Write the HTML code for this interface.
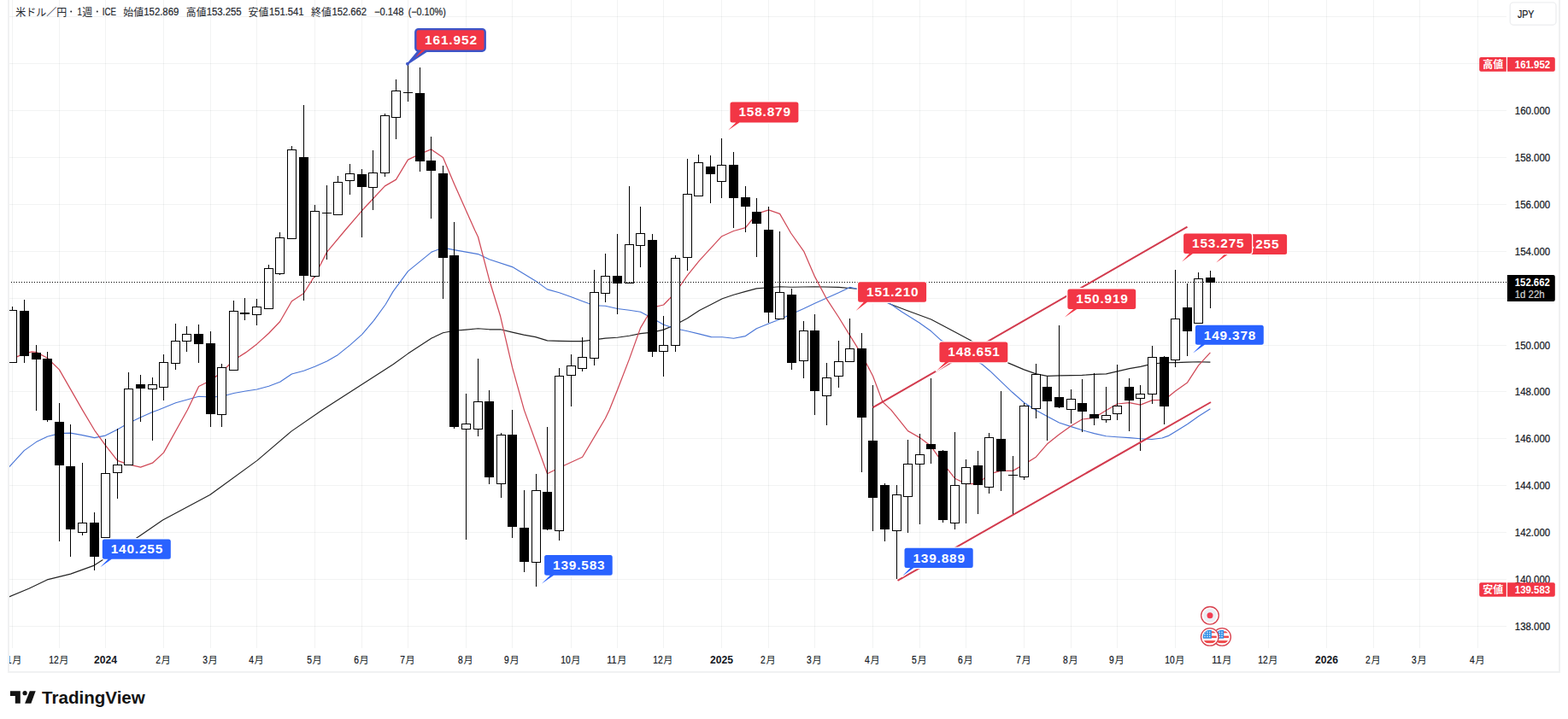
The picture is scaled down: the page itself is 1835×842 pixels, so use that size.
<!DOCTYPE html>
<html><head><meta charset="utf-8"><title>USDJPY</title>
<style>html,body{margin:0;padding:0;background:#fff;}body{width:1835px;height:842px;overflow:hidden;font-family:"Liberation Sans",sans-serif;}svg{display:block}</style>
</head><body>
<svg width="1835" height="842" viewBox="0 0 1835 842">
<rect width="1835" height="842" fill="#fff"/>
<g shape-rendering="crispEdges" fill="rgba(42,46,57,0.06)">
<rect x="11" y="19" width="1752" height="1"/>
<rect x="11" y="74" width="1752" height="1"/>
<rect x="11" y="129" width="1752" height="1"/>
<rect x="11" y="184" width="1752" height="1"/>
<rect x="11" y="239" width="1752" height="1"/>
<rect x="11" y="294" width="1752" height="1"/>
<rect x="11" y="349" width="1752" height="1"/>
<rect x="11" y="404" width="1752" height="1"/>
<rect x="11" y="458" width="1752" height="1"/>
<rect x="11" y="513" width="1752" height="1"/>
<rect x="11" y="568" width="1752" height="1"/>
<rect x="11" y="623" width="1752" height="1"/>
<rect x="11" y="678" width="1752" height="1"/>
<rect x="11" y="733" width="1752" height="1"/>
<rect x="14" y="0" width="1" height="759"/>
<rect x="69" y="0" width="1" height="759"/>
<rect x="123" y="0" width="1" height="759"/>
<rect x="191" y="0" width="1" height="759"/>
<rect x="246" y="0" width="1" height="759"/>
<rect x="300" y="0" width="1" height="759"/>
<rect x="368" y="0" width="1" height="759"/>
<rect x="423" y="0" width="1" height="759"/>
<rect x="477" y="0" width="1" height="759"/>
<rect x="545" y="0" width="1" height="759"/>
<rect x="599" y="0" width="1" height="759"/>
<rect x="668" y="0" width="1" height="759"/>
<rect x="722" y="0" width="1" height="759"/>
<rect x="776" y="0" width="1" height="759"/>
<rect x="844" y="0" width="1" height="759"/>
<rect x="899" y="0" width="1" height="759"/>
<rect x="953" y="0" width="1" height="759"/>
<rect x="1021" y="0" width="1" height="759"/>
<rect x="1076" y="0" width="1" height="759"/>
<rect x="1130" y="0" width="1" height="759"/>
<rect x="1198" y="0" width="1" height="759"/>
<rect x="1253" y="0" width="1" height="759"/>
<rect x="1307" y="0" width="1" height="759"/>
<rect x="1375" y="0" width="1" height="759"/>
<rect x="1430" y="0" width="1" height="759"/>
<rect x="1484" y="0" width="1" height="759"/>
<rect x="1552" y="0" width="1" height="759"/>
<rect x="1607" y="0" width="1" height="759"/>
<rect x="1661" y="0" width="1" height="759"/>
<rect x="1729" y="0" width="1" height="759"/>
</g>
<clipPath id="pane"><rect x="10" y="0" width="1753" height="759"/></clipPath>
<g clip-path="url(#pane)">
<polyline points="10.0,699.2 33.8,689.2 55.2,678.9 82.7,672.1 110.3,662.1 162.9,627.9 190.5,609.1 245.7,579.5 300.8,539.4 340.9,505.1 377.3,480.0 460.0,426.7 477.5,414.1 505.1,396.1 518.4,389.8 531.4,387.3 545.5,386.1 559.5,384.8 572.6,385.8 585.6,385.8 599.6,389.1 612.9,392.1 626.7,394.6 640.5,398.9 654.5,399.4 668.6,399.6 681.6,399.6 695.4,397.9 708.4,396.1 722.5,395.3 736.5,393.3 749.5,390.6 763.6,389.1 776.6,386.1 790.4,380.3 804.4,372.8 818.5,363.5 832.3,356.5 845.3,349.7 858.6,345.2 872.4,341.4 885.4,337.9 899.5,336.7 912.6,335.7 926.4,336.2 953.5,335.7 981.5,336.4 1002.8,338.2 1042.9,356.5 1060.5,363.3 1089.6,374.0 1115.6,387.8 1135.7,398.6 1180.8,425.4 1198.4,432.9 1212.6,437.9 1225.6,440.4 1239.4,439.9 1253.5,439.6 1266.5,439.4 1280.5,438.4 1294.6,437.9 1307.6,434.9 1321.6,431.6 1334.7,429.4 1348.5,426.1 1362.5,424.8 1375.5,424.6 1389.6,424.1 1402.6,423.8 1416.4,424.1" fill="none" stroke="#222" stroke-width="1.15" stroke-linejoin="round" />
<polyline points="10.0,547.7 28.3,527.6 42.4,517.6 55.4,511.3 69.4,507.6 82.5,507.1 96.5,509.6 110.6,512.6 123.3,510.1 137.4,503.1 150.4,495.5 164.5,488.8 178.5,482.5 185.5,480.0 205.6,471.8 232.6,464.3 246.7,465.0 259.7,464.3 273.5,460.5 287.5,458.0 300.6,456.0 314.6,452.3 327.7,447.2 341.4,438.0 355.5,434.2 368.5,429.2 382.6,422.9 395.6,415.4 409.6,404.1 423.7,391.6 437.5,375.3 451.2,356.5 460.0,341.4 477.5,317.6 505.1,295.1 518.4,290.1 531.4,292.6 559.5,297.6 572.6,303.8 599.6,312.6 626.7,328.9 640.5,338.9 654.5,342.7 668.6,347.7 681.6,352.7 695.4,357.7 708.4,358.2 722.5,361.5 736.5,363.3 749.5,365.3 763.6,372.8 776.6,380.3 790.4,384.8 804.4,387.8 818.5,391.1 832.3,394.6 845.3,394.8 858.6,396.3 872.4,393.6 885.4,384.8 899.5,379.0 912.5,374.0 926.4,367.8 940.4,361.5 953.5,355.2 967.5,349.0 981.5,342.7 994.6,336.4 1002.8,338.2 1042.9,356.5 1055.5,365.3 1075.5,377.8 1089.6,387.8 1100.6,397.9 1149.5,426.7 1158.3,434.2 1171.3,446.7 1184.6,459.3 1198.8,471.7 1212.6,480.5 1225.4,487.5 1239.5,495.0 1253.5,499.6 1266.6,503.8 1280.6,507.6 1294.4,510.8 1307.4,511.8 1321.5,512.6 1334.5,513.8 1348.0,514.5 1360.0,513.0 1368.0,510.1 1375.5,505.6 1389.6,496.8 1402.6,487.5 1416.4,478.7" fill="none" stroke="#4a76d6" stroke-width="1.15" stroke-linejoin="round" />
<polyline points="10.0,419.7 19.6,417.9 28.3,414.1 37.6,411.9 42.4,412.4 55.4,419.2 69.4,432.9 96.5,480.1 110.6,503.8 123.3,521.4 137.4,539.4 150.4,543.9 164.5,547.2 178.5,542.2 191.5,530.1 219.4,480.0 232.6,452.5 246.7,445.5 259.7,435.5 273.5,421.7 287.5,412.9 300.6,402.9 314.6,390.3 327.7,376.5 341.4,352.7 355.5,343.5 368.5,322.6 382.6,295.1 403.6,270.0 423.5,246.8 436.3,233.0 450.4,217.9 463.4,210.4 477.4,187.1 491.5,180.3 504.5,174.8 518.5,184.6 531.6,215.4 555.9,270.1 559.5,277.5 572.6,327.7 585.6,370.3 599.6,430.4 613.4,480.1 640.5,554.7 654.5,547.7 681.6,535.2 708.4,490.0 713.2,480.0 722.5,456.8 736.5,420.4 749.5,384.1 763.6,360.2 776.6,357.0 790.4,342.7 804.4,322.6 818.5,305.1 832.3,290.1 844.7,276.7 858.5,270.5 872.5,266.7 885.5,250.4 899.6,245.9 912.6,250.4 925.6,273.0 940.7,294.3 953.5,323.9 967.5,350.2 981.5,371.5 994.6,392.8 1008.6,415.4 1021.6,440.5 1032.9,470.6 1042.9,480.1 1062.5,504.6 1076.5,512.6 1089.6,522.6 1103.6,542.7 1117.4,560.2 1130.4,566.5 1144.5,566.5 1157.5,555.2 1171.3,551.4 1185.3,551.4 1198.4,543.9 1212.4,535.2 1225.4,520.1 1239.5,508.8 1253.5,498.8 1266.5,491.0 1280.5,489.3 1294.6,480.5 1307.6,473.0 1321.6,471.7 1334.7,474.2 1348.5,468.7 1362.5,468.5 1375.5,457.9 1389.6,447.9 1402.6,427.9 1416.4,412.8" fill="none" stroke="#d04a58" stroke-width="1.25" stroke-linejoin="round" />
<g shape-rendering="crispEdges">
<rect x="14" y="359" width="1" height="66" fill="#000"/>
<rect x="9" y="363" width="11" height="62" fill="#000"/>
<rect x="10" y="364" width="9" height="60" fill="#fff"/>
<rect x="28" y="351" width="1" height="74" fill="#000"/>
<rect x="23" y="364" width="11" height="53" fill="#000"/>
<rect x="42" y="404" width="1" height="77" fill="#000"/>
<rect x="37" y="413" width="11" height="8" fill="#000"/>
<rect x="55" y="412" width="1" height="82" fill="#000"/>
<rect x="50" y="420" width="11" height="72" fill="#000"/>
<rect x="69" y="472" width="1" height="162" fill="#000"/>
<rect x="64" y="494" width="11" height="51" fill="#000"/>
<rect x="82" y="497" width="1" height="155" fill="#000"/>
<rect x="77" y="546" width="11" height="74" fill="#000"/>
<rect x="96" y="542" width="1" height="85" fill="#000"/>
<rect x="91" y="612" width="11" height="12" fill="#000"/>
<rect x="92" y="613" width="9" height="10" fill="#fff"/>
<rect x="110" y="600" width="1" height="68" fill="#000"/>
<rect x="105" y="612" width="11" height="40" fill="#000"/>
<rect x="123" y="514" width="1" height="116" fill="#000"/>
<rect x="118" y="554" width="11" height="76" fill="#000"/>
<rect x="119" y="555" width="9" height="74" fill="#fff"/>
<rect x="137" y="502" width="1" height="82" fill="#000"/>
<rect x="132" y="544" width="11" height="10" fill="#000"/>
<rect x="133" y="545" width="9" height="8" fill="#fff"/>
<rect x="150" y="436" width="1" height="109" fill="#000"/>
<rect x="145" y="455" width="11" height="90" fill="#000"/>
<rect x="146" y="456" width="9" height="88" fill="#fff"/>
<rect x="164" y="439" width="1" height="55" fill="#000"/>
<rect x="159" y="450" width="11" height="5" fill="#000"/>
<rect x="178" y="442" width="1" height="74" fill="#000"/>
<rect x="173" y="450" width="11" height="6" fill="#000"/>
<rect x="174" y="451" width="9" height="4" fill="#fff"/>
<rect x="191" y="415" width="1" height="54" fill="#000"/>
<rect x="186" y="424" width="11" height="30" fill="#000"/>
<rect x="187" y="425" width="9" height="28" fill="#fff"/>
<rect x="205" y="379" width="1" height="54" fill="#000"/>
<rect x="200" y="399" width="11" height="27" fill="#000"/>
<rect x="201" y="400" width="9" height="25" fill="#fff"/>
<rect x="218" y="382" width="1" height="30" fill="#000"/>
<rect x="213" y="391" width="11" height="9" fill="#000"/>
<rect x="214" y="392" width="9" height="7" fill="#fff"/>
<rect x="232" y="380" width="1" height="45" fill="#000"/>
<rect x="227" y="391" width="11" height="12" fill="#000"/>
<rect x="246" y="388" width="1" height="112" fill="#000"/>
<rect x="241" y="402" width="11" height="83" fill="#000"/>
<rect x="259" y="426" width="1" height="74" fill="#000"/>
<rect x="254" y="430" width="11" height="56" fill="#000"/>
<rect x="255" y="431" width="9" height="54" fill="#fff"/>
<rect x="273" y="352" width="1" height="82" fill="#000"/>
<rect x="268" y="364" width="11" height="70" fill="#000"/>
<rect x="269" y="365" width="9" height="68" fill="#fff"/>
<rect x="286" y="349" width="1" height="26" fill="#000"/>
<rect x="281" y="366" width="11" height="2" fill="#000"/>
<rect x="300" y="350" width="1" height="31" fill="#000"/>
<rect x="295" y="359" width="11" height="10" fill="#000"/>
<rect x="296" y="360" width="9" height="8" fill="#fff"/>
<rect x="314" y="310" width="1" height="52" fill="#000"/>
<rect x="309" y="314" width="11" height="48" fill="#000"/>
<rect x="310" y="315" width="9" height="46" fill="#fff"/>
<rect x="327" y="272" width="1" height="50" fill="#000"/>
<rect x="322" y="278" width="11" height="43" fill="#000"/>
<rect x="323" y="279" width="9" height="41" fill="#fff"/>
<rect x="341" y="171" width="1" height="109" fill="#000"/>
<rect x="336" y="175" width="11" height="105" fill="#000"/>
<rect x="337" y="176" width="9" height="103" fill="#fff"/>
<rect x="355" y="123" width="1" height="229" fill="#000"/>
<rect x="350" y="184" width="11" height="139" fill="#000"/>
<rect x="368" y="240" width="1" height="85" fill="#000"/>
<rect x="363" y="247" width="11" height="77" fill="#000"/>
<rect x="364" y="248" width="9" height="75" fill="#fff"/>
<rect x="382" y="217" width="1" height="87" fill="#000"/>
<rect x="377" y="249" width="11" height="1" fill="#000"/>
<rect x="395" y="206" width="1" height="46" fill="#000"/>
<rect x="390" y="213" width="11" height="39" fill="#000"/>
<rect x="391" y="214" width="9" height="37" fill="#fff"/>
<rect x="409" y="192" width="1" height="36" fill="#000"/>
<rect x="404" y="203" width="11" height="9" fill="#000"/>
<rect x="405" y="204" width="9" height="7" fill="#fff"/>
<rect x="423" y="198" width="1" height="80" fill="#000"/>
<rect x="418" y="204" width="11" height="15" fill="#000"/>
<rect x="436" y="176" width="1" height="70" fill="#000"/>
<rect x="431" y="202" width="11" height="18" fill="#000"/>
<rect x="432" y="203" width="9" height="16" fill="#fff"/>
<rect x="450" y="133" width="1" height="74" fill="#000"/>
<rect x="445" y="135" width="11" height="68" fill="#000"/>
<rect x="446" y="136" width="9" height="66" fill="#fff"/>
<rect x="463" y="93" width="1" height="70" fill="#000"/>
<rect x="458" y="106" width="11" height="32" fill="#000"/>
<rect x="459" y="107" width="9" height="30" fill="#fff"/>
<rect x="477" y="75" width="1" height="44" fill="#000"/>
<rect x="472" y="108" width="11" height="1" fill="#000"/>
<rect x="491" y="79" width="1" height="122" fill="#000"/>
<rect x="486" y="109" width="11" height="80" fill="#000"/>
<rect x="504" y="160" width="1" height="96" fill="#000"/>
<rect x="499" y="188" width="11" height="12" fill="#000"/>
<rect x="518" y="194" width="1" height="156" fill="#000"/>
<rect x="513" y="203" width="11" height="99" fill="#000"/>
<rect x="531" y="260" width="1" height="242" fill="#000"/>
<rect x="526" y="299" width="11" height="201" fill="#000"/>
<rect x="545" y="461" width="1" height="171" fill="#000"/>
<rect x="540" y="496" width="11" height="7" fill="#000"/>
<rect x="541" y="497" width="9" height="5" fill="#fff"/>
<rect x="559" y="420" width="1" height="91" fill="#000"/>
<rect x="554" y="470" width="11" height="33" fill="#000"/>
<rect x="555" y="471" width="9" height="31" fill="#fff"/>
<rect x="572" y="457" width="1" height="110" fill="#000"/>
<rect x="567" y="470" width="11" height="89" fill="#000"/>
<rect x="586" y="507" width="1" height="76" fill="#000"/>
<rect x="581" y="509" width="11" height="58" fill="#000"/>
<rect x="582" y="510" width="9" height="56" fill="#fff"/>
<rect x="599" y="480" width="1" height="150" fill="#000"/>
<rect x="594" y="509" width="11" height="108" fill="#000"/>
<rect x="613" y="574" width="1" height="96" fill="#000"/>
<rect x="608" y="618" width="11" height="40" fill="#000"/>
<rect x="627" y="555" width="1" height="132" fill="#000"/>
<rect x="622" y="574" width="11" height="85" fill="#000"/>
<rect x="623" y="575" width="9" height="83" fill="#fff"/>
<rect x="640" y="500" width="1" height="121" fill="#000"/>
<rect x="635" y="576" width="11" height="44" fill="#000"/>
<rect x="654" y="431" width="1" height="202" fill="#000"/>
<rect x="649" y="440" width="11" height="182" fill="#000"/>
<rect x="650" y="441" width="9" height="180" fill="#fff"/>
<rect x="668" y="415" width="1" height="61" fill="#000"/>
<rect x="663" y="428" width="11" height="12" fill="#000"/>
<rect x="664" y="429" width="9" height="10" fill="#fff"/>
<rect x="681" y="395" width="1" height="40" fill="#000"/>
<rect x="676" y="418" width="11" height="14" fill="#000"/>
<rect x="677" y="419" width="9" height="12" fill="#fff"/>
<rect x="695" y="316" width="1" height="112" fill="#000"/>
<rect x="690" y="342" width="11" height="78" fill="#000"/>
<rect x="691" y="343" width="9" height="76" fill="#fff"/>
<rect x="708" y="297" width="1" height="57" fill="#000"/>
<rect x="703" y="323" width="11" height="21" fill="#000"/>
<rect x="704" y="324" width="9" height="19" fill="#fff"/>
<rect x="722" y="274" width="1" height="94" fill="#000"/>
<rect x="717" y="323" width="11" height="9" fill="#000"/>
<rect x="736" y="218" width="1" height="114" fill="#000"/>
<rect x="731" y="286" width="11" height="46" fill="#000"/>
<rect x="732" y="287" width="9" height="44" fill="#fff"/>
<rect x="749" y="242" width="1" height="71" fill="#000"/>
<rect x="744" y="273" width="11" height="15" fill="#000"/>
<rect x="745" y="274" width="9" height="13" fill="#fff"/>
<rect x="763" y="274" width="1" height="144" fill="#000"/>
<rect x="758" y="281" width="11" height="131" fill="#000"/>
<rect x="776" y="370" width="1" height="71" fill="#000"/>
<rect x="771" y="404" width="11" height="8" fill="#000"/>
<rect x="772" y="405" width="9" height="6" fill="#fff"/>
<rect x="790" y="299" width="1" height="113" fill="#000"/>
<rect x="785" y="302" width="11" height="103" fill="#000"/>
<rect x="786" y="303" width="9" height="101" fill="#fff"/>
<rect x="804" y="186" width="1" height="131" fill="#000"/>
<rect x="799" y="227" width="11" height="75" fill="#000"/>
<rect x="800" y="228" width="9" height="73" fill="#fff"/>
<rect x="817" y="181" width="1" height="49" fill="#000"/>
<rect x="812" y="190" width="11" height="40" fill="#000"/>
<rect x="813" y="191" width="9" height="38" fill="#fff"/>
<rect x="831" y="182" width="1" height="56" fill="#000"/>
<rect x="826" y="195" width="11" height="9" fill="#000"/>
<rect x="844" y="162" width="1" height="70" fill="#000"/>
<rect x="839" y="193" width="11" height="20" fill="#000"/>
<rect x="840" y="194" width="9" height="18" fill="#fff"/>
<rect x="858" y="178" width="1" height="89" fill="#000"/>
<rect x="853" y="193" width="11" height="39" fill="#000"/>
<rect x="872" y="218" width="1" height="54" fill="#000"/>
<rect x="867" y="231" width="11" height="11" fill="#000"/>
<rect x="885" y="232" width="1" height="69" fill="#000"/>
<rect x="880" y="248" width="11" height="14" fill="#000"/>
<rect x="899" y="242" width="1" height="136" fill="#000"/>
<rect x="894" y="269" width="11" height="97" fill="#000"/>
<rect x="912" y="271" width="1" height="103" fill="#000"/>
<rect x="907" y="342" width="11" height="32" fill="#000"/>
<rect x="908" y="343" width="9" height="30" fill="#fff"/>
<rect x="926" y="338" width="1" height="95" fill="#000"/>
<rect x="921" y="345" width="11" height="80" fill="#000"/>
<rect x="940" y="376" width="1" height="67" fill="#000"/>
<rect x="935" y="387" width="11" height="36" fill="#000"/>
<rect x="936" y="388" width="9" height="34" fill="#fff"/>
<rect x="953" y="368" width="1" height="118" fill="#000"/>
<rect x="948" y="387" width="11" height="71" fill="#000"/>
<rect x="967" y="425" width="1" height="73" fill="#000"/>
<rect x="962" y="442" width="11" height="22" fill="#000"/>
<rect x="963" y="443" width="9" height="20" fill="#fff"/>
<rect x="981" y="399" width="1" height="55" fill="#000"/>
<rect x="976" y="423" width="11" height="18" fill="#000"/>
<rect x="977" y="424" width="9" height="16" fill="#fff"/>
<rect x="994" y="373" width="1" height="51" fill="#000"/>
<rect x="989" y="408" width="11" height="16" fill="#000"/>
<rect x="990" y="409" width="9" height="14" fill="#fff"/>
<rect x="1008" y="390" width="1" height="163" fill="#000"/>
<rect x="1003" y="408" width="11" height="81" fill="#000"/>
<rect x="1021" y="451" width="1" height="171" fill="#000"/>
<rect x="1016" y="516" width="11" height="67" fill="#000"/>
<rect x="1035" y="566" width="1" height="68" fill="#000"/>
<rect x="1030" y="568" width="11" height="52" fill="#000"/>
<rect x="1049" y="568" width="1" height="110" fill="#000"/>
<rect x="1044" y="579" width="11" height="43" fill="#000"/>
<rect x="1045" y="580" width="9" height="41" fill="#fff"/>
<rect x="1062" y="515" width="1" height="109" fill="#000"/>
<rect x="1057" y="543" width="11" height="39" fill="#000"/>
<rect x="1058" y="544" width="9" height="37" fill="#fff"/>
<rect x="1076" y="508" width="1" height="106" fill="#000"/>
<rect x="1071" y="532" width="11" height="12" fill="#000"/>
<rect x="1072" y="533" width="9" height="10" fill="#fff"/>
<rect x="1089" y="443" width="1" height="100" fill="#000"/>
<rect x="1084" y="520" width="11" height="6" fill="#000"/>
<rect x="1103" y="527" width="1" height="85" fill="#000"/>
<rect x="1098" y="528" width="11" height="81" fill="#000"/>
<rect x="1117" y="506" width="1" height="114" fill="#000"/>
<rect x="1112" y="568" width="11" height="45" fill="#000"/>
<rect x="1113" y="569" width="9" height="43" fill="#fff"/>
<rect x="1130" y="538" width="1" height="75" fill="#000"/>
<rect x="1125" y="547" width="11" height="20" fill="#000"/>
<rect x="1126" y="548" width="9" height="18" fill="#fff"/>
<rect x="1144" y="528" width="1" height="74" fill="#000"/>
<rect x="1139" y="545" width="11" height="23" fill="#000"/>
<rect x="1157" y="507" width="1" height="71" fill="#000"/>
<rect x="1152" y="512" width="11" height="59" fill="#000"/>
<rect x="1153" y="513" width="9" height="57" fill="#fff"/>
<rect x="1171" y="458" width="1" height="117" fill="#000"/>
<rect x="1166" y="514" width="11" height="38" fill="#000"/>
<rect x="1185" y="534" width="1" height="68" fill="#000"/>
<rect x="1180" y="556" width="11" height="1" fill="#000"/>
<rect x="1198" y="472" width="1" height="90" fill="#000"/>
<rect x="1193" y="475" width="11" height="84" fill="#000"/>
<rect x="1194" y="476" width="9" height="82" fill="#fff"/>
<rect x="1212" y="426" width="1" height="64" fill="#000"/>
<rect x="1207" y="438" width="11" height="41" fill="#000"/>
<rect x="1208" y="439" width="9" height="39" fill="#fff"/>
<rect x="1225" y="441" width="1" height="75" fill="#000"/>
<rect x="1220" y="453" width="11" height="17" fill="#000"/>
<rect x="1239" y="381" width="1" height="97" fill="#000"/>
<rect x="1234" y="465" width="11" height="12" fill="#000"/>
<rect x="1253" y="456" width="1" height="40" fill="#000"/>
<rect x="1248" y="467" width="11" height="13" fill="#000"/>
<rect x="1249" y="468" width="9" height="11" fill="#fff"/>
<rect x="1266" y="444" width="1" height="62" fill="#000"/>
<rect x="1261" y="472" width="11" height="10" fill="#000"/>
<rect x="1280" y="437" width="1" height="61" fill="#000"/>
<rect x="1275" y="485" width="11" height="5" fill="#000"/>
<rect x="1294" y="453" width="1" height="42" fill="#000"/>
<rect x="1289" y="486" width="11" height="6" fill="#000"/>
<rect x="1290" y="487" width="9" height="4" fill="#fff"/>
<rect x="1307" y="427" width="1" height="65" fill="#000"/>
<rect x="1302" y="475" width="11" height="10" fill="#000"/>
<rect x="1303" y="476" width="9" height="8" fill="#fff"/>
<rect x="1321" y="443" width="1" height="62" fill="#000"/>
<rect x="1316" y="453" width="11" height="16" fill="#000"/>
<rect x="1334" y="451" width="1" height="77" fill="#000"/>
<rect x="1329" y="461" width="11" height="6" fill="#000"/>
<rect x="1330" y="462" width="9" height="4" fill="#fff"/>
<rect x="1348" y="405" width="1" height="68" fill="#000"/>
<rect x="1343" y="418" width="11" height="44" fill="#000"/>
<rect x="1344" y="419" width="9" height="42" fill="#fff"/>
<rect x="1362" y="417" width="1" height="80" fill="#000"/>
<rect x="1357" y="418" width="11" height="58" fill="#000"/>
<rect x="1375" y="316" width="1" height="114" fill="#000"/>
<rect x="1370" y="373" width="11" height="49" fill="#000"/>
<rect x="1371" y="374" width="9" height="47" fill="#fff"/>
<rect x="1389" y="332" width="1" height="85" fill="#000"/>
<rect x="1384" y="360" width="11" height="28" fill="#000"/>
<rect x="1402" y="319" width="1" height="60" fill="#000"/>
<rect x="1397" y="326" width="11" height="53" fill="#000"/>
<rect x="1398" y="327" width="9" height="51" fill="#fff"/>
<rect x="1416" y="317" width="1" height="44" fill="#000"/>
<rect x="1411" y="325" width="11" height="6" fill="#000"/>
</g>
<line x1="10" y1="330.5" x2="1763" y2="330.5" stroke="#000" stroke-width="1" stroke-dasharray="1 2" shape-rendering="crispEdges"/>
<line x1="1021.6" y1="477.2" x2="1389.5" y2="265.6" stroke="#d23a4d" stroke-width="2.0"/>
<line x1="1050.5" y1="679.8" x2="1417" y2="471.0" stroke="#d23a4d" stroke-width="2.0"/>
<path d="M122.3 631.4 H197.3 a2.5 2.5 0 0 1 2.5 2.5 V652.2 a2.5 2.5 0 0 1 -2.5 2.5 H130.7 L117.3 664.2 L126.5 654.7 H122.3 a2.5 2.5 0 0 1 -2.5 -2.5 V633.9 a2.5 2.5 0 0 1 2.5 -2.5 Z" fill="#2962ff" stroke="#fff" stroke-width="2.6" stroke-linejoin="round"/>
<path d="M122.3 631.4 H197.3 a2.5 2.5 0 0 1 2.5 2.5 V652.2 a2.5 2.5 0 0 1 -2.5 2.5 H130.7 L117.3 664.2 L126.5 654.7 H122.3 a2.5 2.5 0 0 1 -2.5 -2.5 V633.9 a2.5 2.5 0 0 1 2.5 -2.5 Z" fill="#2962ff"/>
<text x="129.7" y="648.2" font-family="Liberation Sans, sans-serif" font-size="15.4" font-weight="bold" fill="#fff" textLength="60.6" lengthAdjust="spacing">140.255</text>
<path d="M639.6 649.9 H714.2 a2.5 2.5 0 0 1 2.5 2.5 V671.2 a2.5 2.5 0 0 1 -2.5 2.5 H648.0 L633.9 683.4 L643.8 673.7 H639.6 a2.5 2.5 0 0 1 -2.5 -2.5 V652.4 a2.5 2.5 0 0 1 2.5 -2.5 Z" fill="#2962ff" stroke="#fff" stroke-width="2.6" stroke-linejoin="round"/>
<path d="M639.6 649.9 H714.2 a2.5 2.5 0 0 1 2.5 2.5 V671.2 a2.5 2.5 0 0 1 -2.5 2.5 H648.0 L633.9 683.4 L643.8 673.7 H639.6 a2.5 2.5 0 0 1 -2.5 -2.5 V652.4 a2.5 2.5 0 0 1 2.5 -2.5 Z" fill="#2962ff"/>
<text x="647.0" y="666.7" font-family="Liberation Sans, sans-serif" font-size="15.4" font-weight="bold" fill="#fff" textLength="60.6" lengthAdjust="spacing">139.583</text>
<path d="M857.0 119.6 H931.9 a2.5 2.5 0 0 1 2.5 2.5 V140.9 a2.5 2.5 0 0 1 -2.5 2.5 H865.4 L852.2 152.6 L861.2 143.4 H857.0 a2.5 2.5 0 0 1 -2.5 -2.5 V122.1 a2.5 2.5 0 0 1 2.5 -2.5 Z" fill="#f23645" stroke="#fff" stroke-width="2.6" stroke-linejoin="round"/>
<path d="M857.0 119.6 H931.9 a2.5 2.5 0 0 1 2.5 2.5 V140.9 a2.5 2.5 0 0 1 -2.5 2.5 H865.4 L852.2 152.6 L861.2 143.4 H857.0 a2.5 2.5 0 0 1 -2.5 -2.5 V122.1 a2.5 2.5 0 0 1 2.5 -2.5 Z" fill="#f23645"/>
<text x="864.4" y="136.4" font-family="Liberation Sans, sans-serif" font-size="15.4" font-weight="bold" fill="#fff" textLength="60.6" lengthAdjust="spacing">158.879</text>
<path d="M1006.6 330.2 H1081.6 a2.5 2.5 0 0 1 2.5 2.5 V351.2 a2.5 2.5 0 0 1 -2.5 2.5 H1015.0 L1001.6 364.0 L1010.8 353.7 H1006.6 a2.5 2.5 0 0 1 -2.5 -2.5 V332.7 a2.5 2.5 0 0 1 2.5 -2.5 Z" fill="#f23645" stroke="#fff" stroke-width="2.6" stroke-linejoin="round"/>
<path d="M1006.6 330.2 H1081.6 a2.5 2.5 0 0 1 2.5 2.5 V351.2 a2.5 2.5 0 0 1 -2.5 2.5 H1015.0 L1001.6 364.0 L1010.8 353.7 H1006.6 a2.5 2.5 0 0 1 -2.5 -2.5 V332.7 a2.5 2.5 0 0 1 2.5 -2.5 Z" fill="#f23645"/>
<text x="1014.0" y="347.0" font-family="Liberation Sans, sans-serif" font-size="15.4" font-weight="bold" fill="#fff" textLength="60.6" lengthAdjust="spacing">151.210</text>
<path d="M1101.9 400.6 H1176.8 a2.5 2.5 0 0 1 2.5 2.5 V421.7 a2.5 2.5 0 0 1 -2.5 2.5 H1110.3 L1096.0 434.2 L1106.1 424.2 H1101.9 a2.5 2.5 0 0 1 -2.5 -2.5 V403.1 a2.5 2.5 0 0 1 2.5 -2.5 Z" fill="#f23645" stroke="#fff" stroke-width="2.6" stroke-linejoin="round"/>
<path d="M1101.9 400.6 H1176.8 a2.5 2.5 0 0 1 2.5 2.5 V421.7 a2.5 2.5 0 0 1 -2.5 2.5 H1110.3 L1096.0 434.2 L1106.1 424.2 H1101.9 a2.5 2.5 0 0 1 -2.5 -2.5 V403.1 a2.5 2.5 0 0 1 2.5 -2.5 Z" fill="#f23645"/>
<text x="1109.3" y="417.4" font-family="Liberation Sans, sans-serif" font-size="15.4" font-weight="bold" fill="#fff" textLength="60.6" lengthAdjust="spacing">148.651</text>
<path d="M1251.9 338.4 H1326.7 a2.5 2.5 0 0 1 2.5 2.5 V359.4 a2.5 2.5 0 0 1 -2.5 2.5 H1260.3 L1246.0 371.5 L1256.1 361.9 H1251.9 a2.5 2.5 0 0 1 -2.5 -2.5 V340.9 a2.5 2.5 0 0 1 2.5 -2.5 Z" fill="#f23645" stroke="#fff" stroke-width="2.6" stroke-linejoin="round"/>
<path d="M1251.9 338.4 H1326.7 a2.5 2.5 0 0 1 2.5 2.5 V359.4 a2.5 2.5 0 0 1 -2.5 2.5 H1260.3 L1246.0 371.5 L1256.1 361.9 H1251.9 a2.5 2.5 0 0 1 -2.5 -2.5 V340.9 a2.5 2.5 0 0 1 2.5 -2.5 Z" fill="#f23645"/>
<text x="1259.3" y="355.2" font-family="Liberation Sans, sans-serif" font-size="15.4" font-weight="bold" fill="#fff" textLength="60.6" lengthAdjust="spacing">150.919</text>
<path d="M1061.0 641.7 H1136.2 a2.5 2.5 0 0 1 2.5 2.5 V662.5 a2.5 2.5 0 0 1 -2.5 2.5 H1069.4 L1056.2 674.5 L1065.2 665.0 H1061.0 a2.5 2.5 0 0 1 -2.5 -2.5 V644.2 a2.5 2.5 0 0 1 2.5 -2.5 Z" fill="#2962ff" stroke="#fff" stroke-width="2.6" stroke-linejoin="round"/>
<path d="M1061.0 641.7 H1136.2 a2.5 2.5 0 0 1 2.5 2.5 V662.5 a2.5 2.5 0 0 1 -2.5 2.5 H1069.4 L1056.2 674.5 L1065.2 665.0 H1061.0 a2.5 2.5 0 0 1 -2.5 -2.5 V644.2 a2.5 2.5 0 0 1 2.5 -2.5 Z" fill="#2962ff"/>
<text x="1068.4" y="658.5" font-family="Liberation Sans, sans-serif" font-size="15.4" font-weight="bold" fill="#fff" textLength="60.6" lengthAdjust="spacing">139.889</text>
<path d="M1428.5 274.2 H1503.6 a2.5 2.5 0 0 1 2.5 2.5 V295.4 a2.5 2.5 0 0 1 -2.5 2.5 H1436.9 L1423.4 307.6 L1432.7 297.9 H1428.5 a2.5 2.5 0 0 1 -2.5 -2.5 V276.7 a2.5 2.5 0 0 1 2.5 -2.5 Z" fill="#f23645" stroke="#fff" stroke-width="2.6" stroke-linejoin="round"/>
<path d="M1428.5 274.2 H1503.6 a2.5 2.5 0 0 1 2.5 2.5 V295.4 a2.5 2.5 0 0 1 -2.5 2.5 H1436.9 L1423.4 307.6 L1432.7 297.9 H1428.5 a2.5 2.5 0 0 1 -2.5 -2.5 V276.7 a2.5 2.5 0 0 1 2.5 -2.5 Z" fill="#f23645"/>
<text x="1435.9" y="291.0" font-family="Liberation Sans, sans-serif" font-size="15.4" font-weight="bold" fill="#fff" textLength="60.6" lengthAdjust="spacing">153.255</text>
<path d="M1387.6 273.6 H1462.5 a2.5 2.5 0 0 1 2.5 2.5 V294.5 a2.5 2.5 0 0 1 -2.5 2.5 H1396.0 L1383.2 306.4 L1391.8 297.0 H1387.6 a2.5 2.5 0 0 1 -2.5 -2.5 V276.1 a2.5 2.5 0 0 1 2.5 -2.5 Z" fill="#f23645" stroke="#fff" stroke-width="2.6" stroke-linejoin="round"/>
<path d="M1387.6 273.6 H1462.5 a2.5 2.5 0 0 1 2.5 2.5 V294.5 a2.5 2.5 0 0 1 -2.5 2.5 H1396.0 L1383.2 306.4 L1391.8 297.0 H1387.6 a2.5 2.5 0 0 1 -2.5 -2.5 V276.1 a2.5 2.5 0 0 1 2.5 -2.5 Z" fill="#f23645"/>
<text x="1395.0" y="290.4" font-family="Liberation Sans, sans-serif" font-size="15.4" font-weight="bold" fill="#fff" textLength="60.6" lengthAdjust="spacing">153.275</text>
<path d="M1401.4 380.7 H1476.3 a2.5 2.5 0 0 1 2.5 2.5 V401.3 a2.5 2.5 0 0 1 -2.5 2.5 H1409.8 L1396.1 413.6 L1405.6 403.8 H1401.4 a2.5 2.5 0 0 1 -2.5 -2.5 V383.2 a2.5 2.5 0 0 1 2.5 -2.5 Z" fill="#2962ff" stroke="#fff" stroke-width="2.6" stroke-linejoin="round"/>
<path d="M1401.4 380.7 H1476.3 a2.5 2.5 0 0 1 2.5 2.5 V401.3 a2.5 2.5 0 0 1 -2.5 2.5 H1409.8 L1396.1 413.6 L1405.6 403.8 H1401.4 a2.5 2.5 0 0 1 -2.5 -2.5 V383.2 a2.5 2.5 0 0 1 2.5 -2.5 Z" fill="#2962ff"/>
<text x="1408.8" y="397.5" font-family="Liberation Sans, sans-serif" font-size="15.4" font-weight="bold" fill="#fff" textLength="60.6" lengthAdjust="spacing">149.378</text>
<path d="M490 59 L499.5 60 L477 74.8 Z" fill="#3d55c8" stroke="#3d55c8" stroke-width="1.6" stroke-linejoin="round"/>
<rect x="486.3" y="34.1" width="81.4" height="25.7" rx="3.5" fill="#f23645" stroke="#3d55c8" stroke-width="2.4"/>
<path d="M493.5 58.6 L498 58.6 L486 67.5 Z" fill="#f23645"/>
<circle cx="477" cy="74.8" r="2" fill="#3d55c8"/>
<text x="497" y="52" font-family="Liberation Sans, sans-serif" font-size="15.4" font-weight="bold" fill="#fff" textLength="61" lengthAdjust="spacing">161.952</text>
</g>
<text x="18.2" y="18.9" font-family="'Liberation Sans', 'Noto Sans CJK JP', sans-serif" font-size="12" fill="#25282e" textLength="60" lengthAdjust="spacingAndGlyphs">米ドル／円</text>
<circle cx="83.2" cy="13.6" r="1.0" fill="#25282e"/>
<text x="90.4" y="17.9" font-family="Liberation Sans, sans-serif" font-size="12" fill="#25282e" textLength="5.4" lengthAdjust="spacingAndGlyphs" stroke="#25282e" stroke-width="0.22">1</text>
<text x="96.2" y="18.9" font-family="'Liberation Sans', 'Noto Sans CJK JP', sans-serif" font-size="12" fill="#25282e">週</text>
<circle cx="113.8" cy="13.6" r="1.0" fill="#25282e"/>
<text x="119.8" y="17.9" font-family="Liberation Sans, sans-serif" font-size="12" fill="#25282e" textLength="16.0" lengthAdjust="spacingAndGlyphs" stroke="#25282e" stroke-width="0.22">ICE</text>
<text x="144.3" y="18.9" font-family="'Liberation Sans', 'Noto Sans CJK JP', sans-serif" font-size="12" fill="#25282e" textLength="23.7" lengthAdjust="spacingAndGlyphs">始値</text>
<text x="168.3" y="17.9" font-family="Liberation Sans, sans-serif" font-size="12" fill="#25282e" textLength="41.0" lengthAdjust="spacingAndGlyphs" stroke="#25282e" stroke-width="0.22">152.869</text>
<text x="217.8" y="18.9" font-family="'Liberation Sans', 'Noto Sans CJK JP', sans-serif" font-size="12" fill="#25282e" textLength="23.7" lengthAdjust="spacingAndGlyphs">高値</text>
<text x="241.7" y="17.9" font-family="Liberation Sans, sans-serif" font-size="12" fill="#25282e" textLength="41.0" lengthAdjust="spacingAndGlyphs" stroke="#25282e" stroke-width="0.22">153.255</text>
<text x="290.6" y="18.9" font-family="'Liberation Sans', 'Noto Sans CJK JP', sans-serif" font-size="12" fill="#25282e" textLength="23.7" lengthAdjust="spacingAndGlyphs">安値</text>
<text x="314.9" y="17.9" font-family="Liberation Sans, sans-serif" font-size="12" fill="#25282e" textLength="40.6" lengthAdjust="spacingAndGlyphs" stroke="#25282e" stroke-width="0.22">151.541</text>
<text x="364.1" y="18.9" font-family="'Liberation Sans', 'Noto Sans CJK JP', sans-serif" font-size="12" fill="#25282e" textLength="23.7" lengthAdjust="spacingAndGlyphs">終値</text>
<text x="388.4" y="17.9" font-family="Liberation Sans, sans-serif" font-size="12" fill="#25282e" textLength="40.7" lengthAdjust="spacingAndGlyphs" stroke="#25282e" stroke-width="0.22">152.662</text>
<text x="437.9" y="17.9" font-family="Liberation Sans, sans-serif" font-size="12" fill="#25282e" textLength="34.6" lengthAdjust="spacingAndGlyphs" stroke="#25282e" stroke-width="0.22">−0.148</text>
<text x="477.7" y="17.9" font-family="Liberation Sans, sans-serif" font-size="12" fill="#25282e" textLength="44.1" lengthAdjust="spacingAndGlyphs" stroke="#25282e" stroke-width="0.22">(−0.10%)</text>
<text x="1772.8" y="133.5" font-family="Liberation Sans, sans-serif" font-size="12" fill="#131722" textLength="41.3" lengthAdjust="spacingAndGlyphs" stroke="#131722" stroke-width="0.22">160.000</text>
<text x="1772.8" y="188.5" font-family="Liberation Sans, sans-serif" font-size="12" fill="#131722" textLength="41.3" lengthAdjust="spacingAndGlyphs" stroke="#131722" stroke-width="0.22">158.000</text>
<text x="1772.8" y="243.5" font-family="Liberation Sans, sans-serif" font-size="12" fill="#131722" textLength="41.3" lengthAdjust="spacingAndGlyphs" stroke="#131722" stroke-width="0.22">156.000</text>
<text x="1772.8" y="298.5" font-family="Liberation Sans, sans-serif" font-size="12" fill="#131722" textLength="41.3" lengthAdjust="spacingAndGlyphs" stroke="#131722" stroke-width="0.22">154.000</text>
<text x="1772.8" y="408.5" font-family="Liberation Sans, sans-serif" font-size="12" fill="#131722" textLength="41.3" lengthAdjust="spacingAndGlyphs" stroke="#131722" stroke-width="0.22">150.000</text>
<text x="1772.8" y="462.5" font-family="Liberation Sans, sans-serif" font-size="12" fill="#131722" textLength="41.3" lengthAdjust="spacingAndGlyphs" stroke="#131722" stroke-width="0.22">148.000</text>
<text x="1772.8" y="517.5" font-family="Liberation Sans, sans-serif" font-size="12" fill="#131722" textLength="41.3" lengthAdjust="spacingAndGlyphs" stroke="#131722" stroke-width="0.22">146.000</text>
<text x="1772.8" y="572.5" font-family="Liberation Sans, sans-serif" font-size="12" fill="#131722" textLength="41.3" lengthAdjust="spacingAndGlyphs" stroke="#131722" stroke-width="0.22">144.000</text>
<text x="1772.8" y="627.5" font-family="Liberation Sans, sans-serif" font-size="12" fill="#131722" textLength="41.3" lengthAdjust="spacingAndGlyphs" stroke="#131722" stroke-width="0.22">142.000</text>
<text x="1772.8" y="682.5" font-family="Liberation Sans, sans-serif" font-size="12" fill="#131722" textLength="41.3" lengthAdjust="spacingAndGlyphs" stroke="#131722" stroke-width="0.22">140.000</text>
<text x="1772.8" y="737.5" font-family="Liberation Sans, sans-serif" font-size="12" fill="#131722" textLength="41.3" lengthAdjust="spacingAndGlyphs" stroke="#131722" stroke-width="0.22">138.000</text>
<rect x="1767.2" y="2.9" width="53.8" height="26.3" rx="4" fill="#fff" stroke="#eeeff1" stroke-width="1.4"/>
<text x="1776.0" y="20.9" font-family="Liberation Sans, sans-serif" font-size="12" fill="#131722" textLength="19.4" lengthAdjust="spacingAndGlyphs" stroke="#131722" stroke-width="0.22">JPY</text>
<path d="M1733.2 67.1 H1762.8 V83.7 H1733.2 a2 2 0 0 1 -2 -2 V69.1 a2 2 0 0 1 2 -2 Z" fill="#f23645"/>
<path d="M1764.1 67.1 H1817.8 a2 2 0 0 1 2 2 V81.7 a2 2 0 0 1 -2 2 H1764.1 Z" fill="#f23645"/>
<text x="1735.2" y="80.3" font-family="'Liberation Sans', 'Noto Sans CJK JP', sans-serif" font-size="12" font-weight="bold" fill="#fff" textLength="24" lengthAdjust="spacingAndGlyphs">高値</text>
<text x="1772.8" y="79.8" font-family="Liberation Sans, sans-serif" font-size="12" fill="#fff" textLength="41.3" lengthAdjust="spacingAndGlyphs" font-weight="bold">161.952</text>
<path d="M1733.2 682.2 H1762.8 V698.8 H1733.2 a2 2 0 0 1 -2 -2 V684.2 a2 2 0 0 1 2 -2 Z" fill="#f23645"/>
<path d="M1764.1 682.2 H1817.8 a2 2 0 0 1 2 2 V696.8 a2 2 0 0 1 -2 2 H1764.1 Z" fill="#f23645"/>
<text x="1735.2" y="695.4" font-family="'Liberation Sans', 'Noto Sans CJK JP', sans-serif" font-size="12" font-weight="bold" fill="#fff" textLength="24" lengthAdjust="spacingAndGlyphs">安値</text>
<text x="1772.8" y="694.9" font-family="Liberation Sans, sans-serif" font-size="12" fill="#fff" textLength="41.3" lengthAdjust="spacingAndGlyphs" font-weight="bold">139.583</text>
<path d="M1763.9 322.1 H1817.8 a2 2 0 0 1 2 2 V350.9 a2 2 0 0 1 -2 2 H1763.9 Z" fill="#000"/>
<text x="1772.8" y="334.5" font-family="Liberation Sans, sans-serif" font-size="12" fill="#fff" textLength="41.0" lengthAdjust="spacingAndGlyphs" font-weight="bold">152.662</text>
<text x="1772.8" y="348.5" font-family="Liberation Sans, sans-serif" font-size="12" fill="#d4d4d4" textLength="34.8" lengthAdjust="spacingAndGlyphs" stroke="#d4d4d4" stroke-width="0.22">1d 22h</text>
<text x="2.3" y="776.6" font-family="Liberation Sans, sans-serif" font-size="12" fill="#131722" textLength="11.4" lengthAdjust="spacingAndGlyphs" stroke="#131722" stroke-width="0.22">11</text>
<text x="14.3" y="777" font-family="'Liberation Sans', 'Noto Sans CJK JP', sans-serif" font-size="11.2" fill="#131722">月</text>
<text x="57.3" y="776.6" font-family="Liberation Sans, sans-serif" font-size="12" fill="#131722" textLength="11.4" lengthAdjust="spacingAndGlyphs" stroke="#131722" stroke-width="0.22">12</text>
<text x="69.3" y="777" font-family="'Liberation Sans', 'Noto Sans CJK JP', sans-serif" font-size="11.2" fill="#131722">月</text>
<text x="123.5" y="776.8" font-family="Liberation Sans, sans-serif" font-size="12" fill="#131722" textLength="27.0" lengthAdjust="spacingAndGlyphs" font-weight="bold" text-anchor="middle">2024</text>
<text x="182.2" y="776.6" font-family="Liberation Sans, sans-serif" font-size="12" fill="#131722" textLength="5.7" lengthAdjust="spacingAndGlyphs" stroke="#131722" stroke-width="0.22">2</text>
<text x="188.45" y="777" font-family="'Liberation Sans', 'Noto Sans CJK JP', sans-serif" font-size="11.2" fill="#131722">月</text>
<text x="237.2" y="776.6" font-family="Liberation Sans, sans-serif" font-size="12" fill="#131722" textLength="5.7" lengthAdjust="spacingAndGlyphs" stroke="#131722" stroke-width="0.22">3</text>
<text x="243.45" y="777" font-family="'Liberation Sans', 'Noto Sans CJK JP', sans-serif" font-size="11.2" fill="#131722">月</text>
<text x="291.2" y="776.6" font-family="Liberation Sans, sans-serif" font-size="12" fill="#131722" textLength="5.7" lengthAdjust="spacingAndGlyphs" stroke="#131722" stroke-width="0.22">4</text>
<text x="297.45" y="777" font-family="'Liberation Sans', 'Noto Sans CJK JP', sans-serif" font-size="11.2" fill="#131722">月</text>
<text x="359.2" y="776.6" font-family="Liberation Sans, sans-serif" font-size="12" fill="#131722" textLength="5.7" lengthAdjust="spacingAndGlyphs" stroke="#131722" stroke-width="0.22">5</text>
<text x="365.45" y="777" font-family="'Liberation Sans', 'Noto Sans CJK JP', sans-serif" font-size="11.2" fill="#131722">月</text>
<text x="414.2" y="776.6" font-family="Liberation Sans, sans-serif" font-size="12" fill="#131722" textLength="5.7" lengthAdjust="spacingAndGlyphs" stroke="#131722" stroke-width="0.22">6</text>
<text x="420.45" y="777" font-family="'Liberation Sans', 'Noto Sans CJK JP', sans-serif" font-size="11.2" fill="#131722">月</text>
<text x="468.2" y="776.6" font-family="Liberation Sans, sans-serif" font-size="12" fill="#131722" textLength="5.7" lengthAdjust="spacingAndGlyphs" stroke="#131722" stroke-width="0.22">7</text>
<text x="474.45" y="777" font-family="'Liberation Sans', 'Noto Sans CJK JP', sans-serif" font-size="11.2" fill="#131722">月</text>
<text x="536.1" y="776.6" font-family="Liberation Sans, sans-serif" font-size="12" fill="#131722" textLength="5.7" lengthAdjust="spacingAndGlyphs" stroke="#131722" stroke-width="0.22">8</text>
<text x="542.45" y="777" font-family="'Liberation Sans', 'Noto Sans CJK JP', sans-serif" font-size="11.2" fill="#131722">月</text>
<text x="590.1" y="776.6" font-family="Liberation Sans, sans-serif" font-size="12" fill="#131722" textLength="5.7" lengthAdjust="spacingAndGlyphs" stroke="#131722" stroke-width="0.22">9</text>
<text x="596.45" y="777" font-family="'Liberation Sans', 'Noto Sans CJK JP', sans-serif" font-size="11.2" fill="#131722">月</text>
<text x="656.3" y="776.6" font-family="Liberation Sans, sans-serif" font-size="12" fill="#131722" textLength="11.4" lengthAdjust="spacingAndGlyphs" stroke="#131722" stroke-width="0.22">10</text>
<text x="668.3" y="777" font-family="'Liberation Sans', 'Noto Sans CJK JP', sans-serif" font-size="11.2" fill="#131722">月</text>
<text x="710.3" y="776.6" font-family="Liberation Sans, sans-serif" font-size="12" fill="#131722" textLength="11.4" lengthAdjust="spacingAndGlyphs" stroke="#131722" stroke-width="0.22">11</text>
<text x="722.3" y="777" font-family="'Liberation Sans', 'Noto Sans CJK JP', sans-serif" font-size="11.2" fill="#131722">月</text>
<text x="764.3" y="776.6" font-family="Liberation Sans, sans-serif" font-size="12" fill="#131722" textLength="11.4" lengthAdjust="spacingAndGlyphs" stroke="#131722" stroke-width="0.22">12</text>
<text x="776.3" y="777" font-family="'Liberation Sans', 'Noto Sans CJK JP', sans-serif" font-size="11.2" fill="#131722">月</text>
<text x="844.5" y="776.8" font-family="Liberation Sans, sans-serif" font-size="12" fill="#131722" textLength="27.0" lengthAdjust="spacingAndGlyphs" font-weight="bold" text-anchor="middle">2025</text>
<text x="890.1" y="776.6" font-family="Liberation Sans, sans-serif" font-size="12" fill="#131722" textLength="5.7" lengthAdjust="spacingAndGlyphs" stroke="#131722" stroke-width="0.22">2</text>
<text x="896.45" y="777" font-family="'Liberation Sans', 'Noto Sans CJK JP', sans-serif" font-size="11.2" fill="#131722">月</text>
<text x="944.1" y="776.6" font-family="Liberation Sans, sans-serif" font-size="12" fill="#131722" textLength="5.7" lengthAdjust="spacingAndGlyphs" stroke="#131722" stroke-width="0.22">3</text>
<text x="950.45" y="777" font-family="'Liberation Sans', 'Noto Sans CJK JP', sans-serif" font-size="11.2" fill="#131722">月</text>
<text x="1012.1" y="776.6" font-family="Liberation Sans, sans-serif" font-size="12" fill="#131722" textLength="5.7" lengthAdjust="spacingAndGlyphs" stroke="#131722" stroke-width="0.22">4</text>
<text x="1018.45" y="777" font-family="'Liberation Sans', 'Noto Sans CJK JP', sans-serif" font-size="11.2" fill="#131722">月</text>
<text x="1067.1" y="776.6" font-family="Liberation Sans, sans-serif" font-size="12" fill="#131722" textLength="5.7" lengthAdjust="spacingAndGlyphs" stroke="#131722" stroke-width="0.22">5</text>
<text x="1073.45" y="777" font-family="'Liberation Sans', 'Noto Sans CJK JP', sans-serif" font-size="11.2" fill="#131722">月</text>
<text x="1121.1" y="776.6" font-family="Liberation Sans, sans-serif" font-size="12" fill="#131722" textLength="5.7" lengthAdjust="spacingAndGlyphs" stroke="#131722" stroke-width="0.22">6</text>
<text x="1127.45" y="777" font-family="'Liberation Sans', 'Noto Sans CJK JP', sans-serif" font-size="11.2" fill="#131722">月</text>
<text x="1189.1" y="776.6" font-family="Liberation Sans, sans-serif" font-size="12" fill="#131722" textLength="5.7" lengthAdjust="spacingAndGlyphs" stroke="#131722" stroke-width="0.22">7</text>
<text x="1195.45" y="777" font-family="'Liberation Sans', 'Noto Sans CJK JP', sans-serif" font-size="11.2" fill="#131722">月</text>
<text x="1244.1" y="776.6" font-family="Liberation Sans, sans-serif" font-size="12" fill="#131722" textLength="5.7" lengthAdjust="spacingAndGlyphs" stroke="#131722" stroke-width="0.22">8</text>
<text x="1250.45" y="777" font-family="'Liberation Sans', 'Noto Sans CJK JP', sans-serif" font-size="11.2" fill="#131722">月</text>
<text x="1298.1" y="776.6" font-family="Liberation Sans, sans-serif" font-size="12" fill="#131722" textLength="5.7" lengthAdjust="spacingAndGlyphs" stroke="#131722" stroke-width="0.22">9</text>
<text x="1304.45" y="777" font-family="'Liberation Sans', 'Noto Sans CJK JP', sans-serif" font-size="11.2" fill="#131722">月</text>
<text x="1363.3" y="776.6" font-family="Liberation Sans, sans-serif" font-size="12" fill="#131722" textLength="11.4" lengthAdjust="spacingAndGlyphs" stroke="#131722" stroke-width="0.22">10</text>
<text x="1375.3" y="777" font-family="'Liberation Sans', 'Noto Sans CJK JP', sans-serif" font-size="11.2" fill="#131722">月</text>
<text x="1418.3" y="776.6" font-family="Liberation Sans, sans-serif" font-size="12" fill="#131722" textLength="11.4" lengthAdjust="spacingAndGlyphs" stroke="#131722" stroke-width="0.22">11</text>
<text x="1430.3" y="777" font-family="'Liberation Sans', 'Noto Sans CJK JP', sans-serif" font-size="11.2" fill="#131722">月</text>
<text x="1472.3" y="776.6" font-family="Liberation Sans, sans-serif" font-size="12" fill="#131722" textLength="11.4" lengthAdjust="spacingAndGlyphs" stroke="#131722" stroke-width="0.22">12</text>
<text x="1484.3" y="777" font-family="'Liberation Sans', 'Noto Sans CJK JP', sans-serif" font-size="11.2" fill="#131722">月</text>
<text x="1552.5" y="776.8" font-family="Liberation Sans, sans-serif" font-size="12" fill="#131722" textLength="27.0" lengthAdjust="spacingAndGlyphs" font-weight="bold" text-anchor="middle">2026</text>
<text x="1598.1" y="776.6" font-family="Liberation Sans, sans-serif" font-size="12" fill="#131722" textLength="5.7" lengthAdjust="spacingAndGlyphs" stroke="#131722" stroke-width="0.22">2</text>
<text x="1604.45" y="777" font-family="'Liberation Sans', 'Noto Sans CJK JP', sans-serif" font-size="11.2" fill="#131722">月</text>
<text x="1652.1" y="776.6" font-family="Liberation Sans, sans-serif" font-size="12" fill="#131722" textLength="5.7" lengthAdjust="spacingAndGlyphs" stroke="#131722" stroke-width="0.22">3</text>
<text x="1658.45" y="777" font-family="'Liberation Sans', 'Noto Sans CJK JP', sans-serif" font-size="11.2" fill="#131722">月</text>
<text x="1720.1" y="776.6" font-family="Liberation Sans, sans-serif" font-size="12" fill="#131722" textLength="5.7" lengthAdjust="spacingAndGlyphs" stroke="#131722" stroke-width="0.22">4</text>
<text x="1726.45" y="777" font-family="'Liberation Sans', 'Noto Sans CJK JP', sans-serif" font-size="11.2" fill="#131722">月</text>
<rect x="0" y="760" width="9" height="26" fill="#fff"/>
<g shape-rendering="crispEdges" fill="#f0f1f2">
<rect x="9" y="0" width="2" height="788"/>
<rect x="9" y="786" width="1817" height="2"/>
<rect x="1824" y="0" width="2" height="788"/>
</g>
<circle cx="1416.0" cy="720.8" r="10.3" fill="#fff" stroke="#d8404d" stroke-width="1.3"/>
<circle cx="1416.0" cy="720.8" r="8" fill="#eceef4"/>
<circle cx="1416.0" cy="720.8" r="3.5" fill="#f23d52"/>
<clipPath id="us2"><circle cx="1430.1" cy="745.9" r="8.1"/></clipPath>
<circle cx="1430.1" cy="745.9" r="10.3" fill="#fff" stroke="#d8404d" stroke-width="1.3"/>
<g clip-path="url(#us2)">
<rect x="1421.6" y="737.4" width="17" height="17" fill="#fff"/>
<rect x="1421.6" y="739.3" width="17" height="2.0" fill="#ef4b4b"/>
<rect x="1421.6" y="744.6" width="17" height="2.5" fill="#ef4b4b"/>
<rect x="1421.6" y="750.1" width="17" height="3.1" fill="#ef4b4b"/>
<rect x="1421.6" y="737.4" width="10.6" height="10.3" fill="#2f8fe6"/>
<rect x="1423.60" y="739.60" width="1.4" height="1.4" fill="#e8f3ff"/>
<rect x="1423.60" y="742.10" width="1.4" height="1.4" fill="#e8f3ff"/>
<rect x="1423.60" y="744.80" width="1.4" height="1.4" fill="#e8f3ff"/>
<rect x="1426.50" y="739.60" width="1.4" height="1.4" fill="#e8f3ff"/>
<rect x="1426.50" y="742.10" width="1.4" height="1.4" fill="#e8f3ff"/>
<rect x="1426.50" y="744.80" width="1.4" height="1.4" fill="#e8f3ff"/>
<rect x="1429.25" y="739.60" width="1.4" height="1.4" fill="#e8f3ff"/>
<rect x="1429.25" y="742.10" width="1.4" height="1.4" fill="#e8f3ff"/>
<rect x="1429.25" y="744.80" width="1.4" height="1.4" fill="#e8f3ff"/>
</g>
<clipPath id="us1"><circle cx="1415.8" cy="745.9" r="8.1"/></clipPath>
<circle cx="1415.8" cy="745.9" r="10.3" fill="#fff" stroke="#d8404d" stroke-width="1.3"/>
<g clip-path="url(#us1)">
<rect x="1407.3" y="737.4" width="17" height="17" fill="#fff"/>
<rect x="1407.3" y="739.3" width="17" height="2.0" fill="#ef4b4b"/>
<rect x="1407.3" y="744.6" width="17" height="2.5" fill="#ef4b4b"/>
<rect x="1407.3" y="750.1" width="17" height="3.1" fill="#ef4b4b"/>
<rect x="1407.3" y="737.4" width="10.6" height="10.3" fill="#2f8fe6"/>
<rect x="1409.30" y="739.60" width="1.4" height="1.4" fill="#e8f3ff"/>
<rect x="1409.30" y="742.10" width="1.4" height="1.4" fill="#e8f3ff"/>
<rect x="1409.30" y="744.80" width="1.4" height="1.4" fill="#e8f3ff"/>
<rect x="1412.20" y="739.60" width="1.4" height="1.4" fill="#e8f3ff"/>
<rect x="1412.20" y="742.10" width="1.4" height="1.4" fill="#e8f3ff"/>
<rect x="1412.20" y="744.80" width="1.4" height="1.4" fill="#e8f3ff"/>
<rect x="1414.95" y="739.60" width="1.4" height="1.4" fill="#e8f3ff"/>
<rect x="1414.95" y="742.10" width="1.4" height="1.4" fill="#e8f3ff"/>
<rect x="1414.95" y="744.80" width="1.4" height="1.4" fill="#e8f3ff"/>
</g>
<path d="M11.9 809.2 H23.8 V823.8 H17.8 V814.9 H11.9 Z" fill="#131313"/>
<circle cx="29.1" cy="811.7" r="2.6" fill="#131313"/>
<path d="M34.8 809.2 H41.7 L36.4 823.8 H29.1 Z" fill="#131313"/>
<text x="49.1" y="823.8" font-family="Liberation Sans, sans-serif" font-size="20.4" fill="#131313" textLength="120.7" lengthAdjust="spacingAndGlyphs" font-weight="bold">TradingView</text>
</svg>
</body></html>
